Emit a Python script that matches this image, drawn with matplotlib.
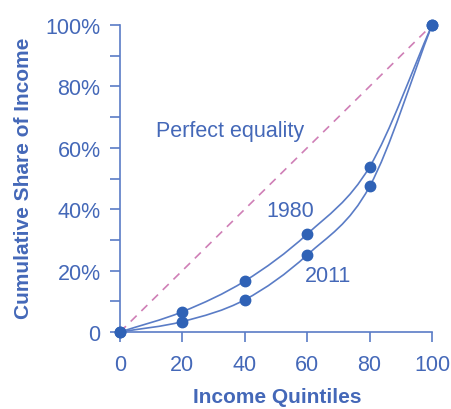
import matplotlib
matplotlib.use("Agg")
import matplotlib.pyplot as plt
from matplotlib.path import Path
from matplotlib.patches import PathPatch

quintiles = [0, 20, 40, 60, 80, 100]
share_1980 = [0, 6.6, 16.6, 31.9, 53.8, 100]
share_2011 = [0, 3.4, 10.5, 25.1, 47.4, 100]
equality = [0, 100]
xtick_labels = ["0", "20", "40", "60", "80", "100"]
ytick_vals = [0, 20, 40, 60, 80, 100]
ytick_labels = ["0", "20%", "40%", "60%", "80%", "100%"]

TXT = "#4468b8"
LINE = "#5a7cc6"
MARK = "#2f62b6"
PINK = "#cf7fb6"

plt.rcParams["font.family"] = ["Liberation Sans", "DejaVu Sans"]

fig = plt.figure(figsize=(4.51, 4.10), dpi=100)
ax = fig.add_axes([120/451, 1-333/410, 312/451, 307/410])
ax.set_xlim(0, 100)
ax.set_ylim(0, 100)


def smooth_path(xs, ys):
    n = len(xs)
    mx, my = [], []
    for i in range(n):
        if i == 0:
            mx.append(xs[1]-xs[0]); my.append(ys[1]-ys[0])
        elif i == n-1:
            mx.append(xs[-1]-xs[-2]); my.append(ys[-1]-ys[-2])
        else:
            mx.append((xs[i+1]-xs[i-1])/2); my.append((ys[i+1]-ys[i-1])/2)
    verts = [(xs[0], ys[0])]
    codes = [Path.MOVETO]
    for i in range(n-1):
        verts += [(xs[i]+mx[i]/3, ys[i]+my[i]/3),
                  (xs[i+1]-mx[i+1]/3, ys[i+1]-my[i+1]/3),
                  (xs[i+1], ys[i+1])]
        codes += [Path.CURVE4]*3
    return Path(verts, codes)


ax.plot(equality, equality, ls=(0, (5, 4)), color=PINK, lw=1.2, zorder=2)
for ys in (share_1980, share_2011):
    ax.add_patch(PathPatch(smooth_path(quintiles, ys), fill=False,
                           edgecolor=LINE, lw=1.2, zorder=3))
    ax.plot(quintiles, ys, "o", ms=7.5, color=MARK, zorder=4, clip_on=False)

for s in ("top", "right"):
    ax.spines[s].set_visible(False)
for s in ("left", "bottom"):
    ax.spines[s].set_color(LINE)
    ax.spines[s].set_linewidth(1.2)

ax.set_xticks(quintiles)
ax.set_xticklabels(xtick_labels)
ax.set_yticks(ytick_vals)
ax.set_yticklabels(ytick_labels)
ax.set_yticks(range(10, 100, 20), minor=True)
ax.tick_params(axis="both", which="both", direction="out", length=7,
               width=1.2, color=LINE, labelcolor=TXT, labelsize=15.5, pad=7)
ax.tick_params(axis="x", pad=9)

ax.text(35.3, 65.5, "Perfect equality", color=TXT, fontsize=15.5,
        ha="center", va="center")
ax.text(54.5, 39.7, "1980", color=TXT, fontsize=15.5, ha="center", va="center")
ax.text(66.7, 18.5, "2011", color=TXT, fontsize=15.5, ha="center", va="center")

fig.text(277/451, 1-398/410, "Income Quintiles", color=TXT, fontsize=15,
         fontweight="bold", ha="center", va="center")
fig.text(24/451, 1-178/410, "Cumulative Share of Income", color=TXT,
         fontsize=15, fontweight="bold", ha="center", va="center",
         rotation=90)

fig.savefig("out.png", dpi=100)
